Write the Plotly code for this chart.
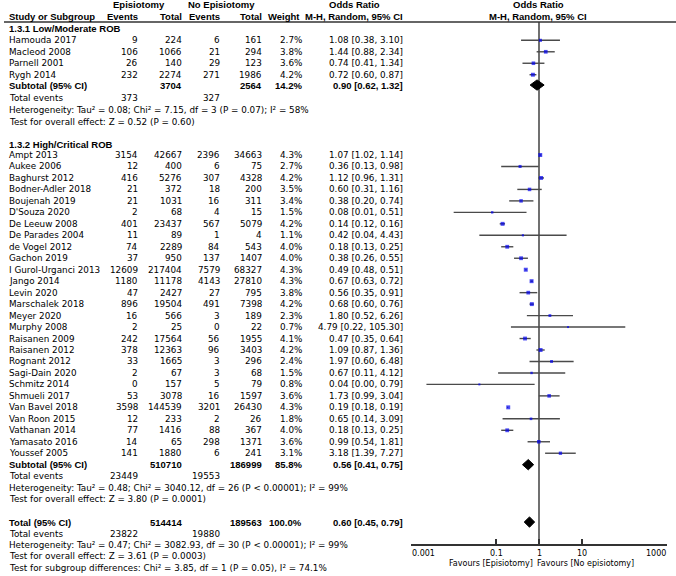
import math
import plotly.graph_objects as go

W, H = 676, 576

# ---------------- data ----------------
g1_study = ["Hamouda 2017", "Macleod 2008", "Parnell 2001", "Rygh 2014"]
g1_e_ev = [9, 106, 26, 232]
g1_e_tot = [224, 1066, 140, 2274]
g1_c_ev = [6, 21, 29, 271]
g1_c_tot = [161, 294, 123, 1986]
g1_wt = [2.7, 3.8, 3.6, 4.2]
g1_or = [1.08, 1.44, 0.74, 0.72]
g1_lo = [0.38, 0.88, 0.41, 0.60]
g1_hi = [3.10, 2.34, 1.34, 0.87]

g2_study = ["Ampt 2013", "Aukee 2006", "Baghurst 2012", "Bodner-Adler 2018", "Boujenah 2019",
            "D'Souza 2020", "De Leeuw 2008", "De Parades 2004", "de Vogel 2012", "Gachon 2019",
            "I Gurol-Urganci 2013", "Jango 2014", "Levin 2020", "Marschalek 2018", "Meyer 2020",
            "Murphy 2008", "Raisanen 2009", "Raisanen 2012", "Rognant 2012", "Sagi-Dain 2020",
            "Schmitz 2014", "Shmueli 2017", "Van Bavel 2018", "Van Roon 2015", "Vathanan 2014",
            "Yamasato 2016", "Youssef 2005"]
g2_e_ev = [3154, 12, 416, 21, 21, 2, 401, 11, 74, 37, 12609, 1180, 47, 896, 16, 2, 242, 378,
           33, 2, 0, 53, 3598, 12, 77, 14, 141]
g2_e_tot = [42667, 400, 5276, 372, 1031, 68, 23437, 89, 2289, 950, 217404, 11178, 2427, 19504,
            566, 25, 17564, 12363, 1665, 67, 157, 3078, 144539, 233, 1416, 65, 1880]
g2_c_ev = [2396, 6, 307, 18, 16, 4, 567, 1, 84, 137, 7579, 4143, 27, 491, 3, 0, 56, 96, 3, 3,
           5, 16, 3201, 2, 88, 298, 6]
g2_c_tot = [34663, 75, 4328, 200, 311, 15, 5079, 4, 543, 1407, 68327, 27810, 795, 7398, 189,
            22, 1955, 3403, 296, 68, 79, 1597, 26430, 26, 367, 1371, 241]
g2_wt = [4.3, 2.7, 4.2, 3.5, 3.4, 1.5, 4.2, 1.1, 4.0, 4.0, 4.3, 4.3, 3.8, 4.2, 2.3, 0.7, 4.1,
         4.2, 2.4, 1.5, 0.8, 3.6, 4.3, 1.8, 4.0, 3.6, 3.1]
g2_or = [1.07, 0.36, 1.12, 0.60, 0.38, 0.08, 0.14, 0.42, 0.18, 0.38, 0.49, 0.67, 0.56, 0.68,
         1.80, 4.79, 0.47, 1.09, 1.97, 0.67, 0.04, 1.73, 0.19, 0.65, 0.18, 0.99, 3.18]
g2_lo = [1.02, 0.13, 0.96, 0.31, 0.20, 0.01, 0.12, 0.04, 0.13, 0.26, 0.48, 0.63, 0.35, 0.60,
         0.52, 0.22, 0.35, 0.87, 0.60, 0.11, 0.0023, 0.99, 0.18, 0.14, 0.13, 0.54, 1.39]
g2_hi = [1.14, 0.98, 1.31, 1.16, 0.74, 0.51, 0.16, 4.43, 0.25, 0.55, 0.51, 0.72, 0.91, 0.76,
         6.26, 105.30, 0.64, 1.36, 6.48, 4.12, 0.79, 3.04, 0.19, 3.09, 0.25, 1.81, 7.27]

# summaries: subgroup 1, subgroup 2, overall
sum_label = ["Subtotal (95% CI)", "Subtotal (95% CI)", "Total (95% CI)"]
sum_e_tot = [3704, 510710, 514414]
sum_c_tot = [2564, 186999, 189563]
sum_wt = [14.2, 85.8, 100.0]
sum_or = [0.90, 0.56, 0.60]
sum_lo = [0.62, 0.41, 0.45]
sum_hi = [1.32, 0.75, 0.79]
sum_e_ev = [373, 23449, 23822]
sum_c_ev = [327, 19553, 19880]
sum_het = [
    "Heterogeneity: Tau² = 0.08; Chi² = 7.15, df = 3 (P = 0.07); I² = 58%",
    "Heterogeneity: Tau² = 0.48; Chi² = 3040.12, df = 26 (P < 0.00001); I² = 99%",
    "Heterogeneity: Tau² = 0.47; Chi² = 3082.93, df = 30 (P < 0.00001); I² = 99%",
]
sum_test = [
    "Test for overall effect: Z = 0.52 (P = 0.60)",
    "Test for overall effect: Z = 3.80 (P = 0.0001)",
    "Test for overall effect: Z = 3.61 (P = 0.0003)",
]
subgroup_test = "Test for subgroup differences: Chi² = 3.85, df = 1 (P = 0.05), I² = 74.1%"
group_titles = ["1.3.1 Low/Moderate ROB", "1.3.2 High/Critical ROB"]

tick_vals = [0.001, 0.1, 1, 10, 1000]
tick_text = ["0.001", "0.1", "1", "10", "1000"]

# ---------------- layout helpers ----------------
FONT = "DejaVu Sans"
BFONT = "Liberation Sans"
FS = 8.8
BFS = 9.5
AFS = 8.0
ROW_H = 11.47
ROW0 = 5.9  # pixel of row 0

def px(x):
    return x / W

ann = []

def txt(x, r, s, anchor="left", bold=False, size=None):
    if bold:
        f = dict(family=BFONT, size=size or BFS, color="#000", weight="bold")
    else:
        f = dict(family=FONT, size=size or FS, color="#000")
    ann.append(dict(x=px(x), y=r, xref="paper", yref="y", text=s,
                    showarrow=False, xanchor=anchor, yanchor="middle", borderpad=0,
                    font=f))

X_NAME, X_EEV, X_ETOT, X_CEV, X_CTOT, X_WT, X_OR = 8, 139, 183, 221, 263, 303, 404

def or_str(o, l, h):
    return "%.2f [%.2f, %.2f]" % (o, l, h)

# headers
txt(138.5, -0.08, "Episiotomy", "center", True)
txt(221, -0.08, "No Episiotomy", "center", True)
txt(354, -0.08, "Odds Ratio", "center", True)
txt(538, -0.08, "Odds Ratio", "center", True)
txt(X_NAME, 0.9, "Study or Subgroup", "left", True)
txt(X_EEV, 0.9, "Events", "right", True)
txt(X_ETOT, 0.9, "Total", "right", True)
txt(X_CEV, 0.9, "Events", "right", True)
txt(X_CTOT, 0.9, "Total", "right", True)
txt(301, 0.9, "Weight", "right", True)
txt(X_OR, 0.9, "M-H, Random, 95% CI", "right", True)
txt(538, 0.9, "M-H, Random, 95% CI", "center", True)

groups = [
    (g1_study, g1_e_ev, g1_e_tot, g1_c_ev, g1_c_tot, g1_wt, g1_or, g1_lo, g1_hi),
    (g2_study, g2_e_ev, g2_e_tot, g2_c_ev, g2_c_tot, g2_wt, g2_or, g2_lo, g2_hi),
]
title_rows = [2.0, 12.05]
first_rows = [3, 13]
sub_rows = [6.9, 40, 45]
ev_rows = [8.05, 41, 46]
het_rows = [9.1, 42, 47]
test_rows = [10.1, 43, 48]

ci_x, ci_y, pt_x, pt_y, pt_s = [], [], [], [], []
for gi, g in enumerate(groups):
    st, eev, etot, cev, ctot, wt, orv, lo, hi = g
    txt(X_NAME, title_rows[gi], group_titles[gi], "left", True)
    for i in range(len(st)):
        r = first_rows[gi] + i
        txt(X_NAME, r, st[i])
        txt(X_EEV, r, str(eev[i]), "right")
        txt(X_ETOT, r, str(etot[i]), "right")
        txt(X_CEV, r, str(cev[i]), "right")
        txt(X_CTOT, r, str(ctot[i]), "right")
        txt(X_WT, r, "%.1f%%" % wt[i], "right")
        txt(X_OR, r, or_str(orv[i], lo[i], hi[i]), "right")
        ci_x += [lo[i], hi[i], None]
        ci_y += [r, r, None]
        pt_x.append(orv[i])
        pt_y.append(r)
        pt_s.append(1.6 + 0.55 * wt[i])

dia_x, dia_y = [], []
for k in range(3):
    r = sub_rows[k]
    txt(X_NAME, r, sum_label[k], "left", True)
    txt(X_ETOT, r, str(sum_e_tot[k]), "right", True)
    txt(X_CTOT, r, str(sum_c_tot[k]), "right", True)
    txt(X_WT, r, "%.1f%%" % sum_wt[k], "right", True)
    txt(X_OR, r, or_str(sum_or[k], sum_lo[k], sum_hi[k]), "right", True)
    txt(X_NAME, ev_rows[k], "Total events")
    txt(X_EEV, ev_rows[k], str(sum_e_ev[k]), "right")
    txt(X_CEV, ev_rows[k], str(sum_c_ev[k]), "right")
    txt(X_NAME, het_rows[k], sum_het[k])
    txt(X_NAME, test_rows[k], sum_test[k])
    dia_x += [sum_lo[k], sum_or[k], sum_hi[k], sum_or[k], sum_lo[k], None]
    dia_y += [r, r - 0.45, r, r + 0.45, r, None]
txt(X_NAME, 49, subgroup_test)

AXIS_ROW = 47
LINE_TOP = 1.4

# tick labels placed on the log axis (end labels aligned inward)
for i, (tv, tt) in enumerate(zip(tick_vals, tick_text)):
    anchor = "left" if i == 0 else ("right" if i == len(tick_vals) - 1 else "center")
    ann.append(dict(x=math.log10(tv), y=AXIS_ROW + 0.72, xref="x", yref="y", text=tt,
                    showarrow=False, xanchor=anchor, yanchor="middle", borderpad=0,
                    font=dict(family=FONT, size=AFS, color="#000")))
ann.append(dict(x=0, y=AXIS_ROW + 1.62, xref="x", yref="y", text="Favours [Episiotomy]",
                showarrow=False, xanchor="right", xshift=-5, yanchor="middle", borderpad=0,
                font=dict(family=FONT, size=AFS, color="#000")))
ann.append(dict(x=0, y=AXIS_ROW + 1.62, xref="x", yref="y", text="Favours [No episiotomy]",
                showarrow=False, xanchor="left", xshift=-3, yanchor="middle", borderpad=0,
                font=dict(family=FONT, size=AFS, color="#000")))

fig = go.Figure()
# line of no effect
fig.add_trace(go.Scatter(x=[1, 1], y=[LINE_TOP, AXIS_ROW], mode="lines",
                         line=dict(color="#111", width=1.2), hoverinfo="skip"))
# confidence intervals
fig.add_trace(go.Scatter(x=ci_x, y=ci_y, mode="lines", line=dict(color="#4a4a4a", width=1.4),
                         hoverinfo="skip"))
# study estimates
fig.add_trace(go.Scatter(x=pt_x, y=pt_y, mode="markers",
                         marker=dict(symbol="square", size=pt_s, color="#0000ee", line=dict(width=0))))
# pooled diamonds
fig.add_trace(go.Scatter(x=dia_x, y=dia_y, mode="lines", fill="toself", fillcolor="#000",
                         line=dict(color="#000", width=1)))

fig.add_shape(type="line", xref="paper", yref="y", x0=px(4), x1=1, y0=LINE_TOP, y1=LINE_TOP,
              line=dict(color="#333", width=1.5))

y_top = -ROW0 / ROW_H
y_bot = (H - ROW0) / ROW_H
axis_pos = 1 - (ROW0 + AXIS_ROW * ROW_H) / H

fig.update_layout(
    width=W, height=H, margin=dict(l=0, r=0, t=0, b=0, pad=0, autoexpand=False),
    paper_bgcolor="white", plot_bgcolor="white", showlegend=False,
    annotations=ann,
    xaxis=dict(type="log", range=[-3, 3], domain=[px(411), px(667)], anchor="free",
               position=axis_pos, showline=True, linecolor="#333", linewidth=1.5,
               ticks="inside", ticklen=5, tickwidth=1.5, tickcolor="#333",
               tickvals=tick_vals, showticklabels=False, showgrid=False, zeroline=False,
               automargin=False),
    yaxis=dict(range=[y_bot, y_top], domain=[0, 1], visible=False, showgrid=False,
               zeroline=False, automargin=False),
)

fig.write_html(
    "out.html",
    config={"responsive": False, "displayModeBar": False},
    post_script="document.body.style.margin='0';document.body.style.padding='0';"
                "document.body.style.overflow='hidden';",
)
